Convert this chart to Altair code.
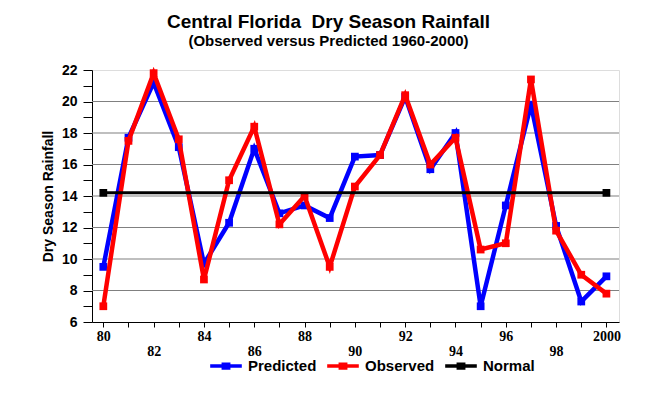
import altair as alt
import pandas as pd

years = list(range(1980, 2001))
predicted = [9.5, 17.7, 21.2, 17.1, 9.7, 12.3, 17.0, 12.9, 13.4, 12.6, 16.5,
             16.6, 20.3, 15.7, 18.0, 7.0, 13.4, 19.8, 12.1, 7.3, 8.9]
observed = [7.0, 17.5, 21.8, 17.6, 8.7, 15.0, 18.4, 12.2, 14.0, 9.5, 14.6,
            16.6, 20.4, 16.0, 17.7, 10.6, 11.0, 21.4, 11.8, 9.0, 7.8]
normal_years = [1980, 2000]
normal_values = [14.2, 14.2]
series_names = ["Predicted", "Observed", "Normal"]
series_colors = ["#0000FF", "#FF0000", "#000000"]
grid_values = [8, 10, 12, 14, 16, 18, 20]
y_ticks = list(range(6, 23))

rows = []
for y, v in zip(years, predicted):
    rows.append({"year": y, "value": v, "series": "Predicted"})
for y, v in zip(years, observed):
    rows.append({"year": y, "value": v, "series": "Observed"})
for y, v in zip(normal_years, normal_values):
    rows.append({"year": y, "value": v, "series": "Normal"})
df = pd.DataFrame(rows)
grid_df = pd.DataFrame({"value": grid_values})

x_enc = alt.X(
    "year:Q",
    scale=alt.Scale(domain=[1979.55, 2000.5], nice=False, zero=False),
    axis=alt.Axis(
        values=years,
        title=None,
        grid=False,
        labelExpr=("datum.value == 2000 ? '2000' : (datum.value % 2 == 1 ? '' : "
                   "(datum.value % 4 == 0 ? toString(datum.value - 1900) : "
                   "['', toString(datum.value - 1900)]))"),
        labelFont="Liberation Serif",
        labelFontWeight="bold",
        labelFontSize=14,
        labelColor="black",
        labelOverlap=False,
        labelFlush=False,
        labelLineHeight=15,
        tickSize=5,
        tickColor="black",
        domainColor="black",
        labelPadding=2,
    ),
)

y_enc = alt.Y(
    "value:Q",
    scale=alt.Scale(domain=[6, 22], nice=False, zero=False),
    axis=alt.Axis(
        values=y_ticks,
        title="Dry Season Rainfall",
        grid=False,
        labelExpr="datum.value % 2 == 0 ? datum.label : ''",
        labelFont="Liberation Sans",
        labelFontWeight="bold",
        labelFontSize=14,
        labelColor="black",
        labelOverlap=False,
        labelFlush=False,
        tickSize=9,
        tickColor="black",
        domainColor="black",
        labelPadding=6,
        titleFont="Liberation Sans",
        titleFontWeight="bold",
        titleFontSize=14,
        titleColor="black",
        titlePadding=6,
    ),
)

legend_path = "M-1,0L1,0M-0.17,-0.12L0.17,-0.12L0.17,0.12L-0.17,0.12Z"
color_enc = alt.Color(
    "series:N",
    scale=alt.Scale(domain=series_names, range=series_colors),
    legend=alt.Legend(
        orient="none",
        legendX=116,
        legendY=278,
        direction="horizontal",
        title=None,
        symbolType=legend_path,
        symbolSize=1000,
        symbolStrokeWidth=3.5,
        labelFont="Liberation Sans",
        labelFontWeight="bold",
        labelFontSize=15,
        labelColor="black",
        labelOffset=4,
        columnPadding=3,
    ),
)

grid = alt.Chart(grid_df).mark_rule(color="#808080", strokeWidth=1.2).encode(y=y_enc)

layers = [grid]
for name, width, size in [("Predicted", 4.5, 60), ("Observed", 4.5, 60), ("Normal", 3, 60)]:
    base = alt.Chart(df).transform_filter(alt.datum.series == name)
    layers.append(base.mark_line(strokeWidth=width).encode(x=x_enc, y=y_enc, color=color_enc))
    layers.append(base.mark_point(shape="square", filled=True, size=size, opacity=1).encode(
        x=x_enc, y=y_enc, color=color_enc))

chart = alt.layer(*layers).properties(
    width=527,
    height=252,
    autosize=alt.AutoSizeParams(type="none"),
    padding={"left": 84, "top": 62, "right": 30, "bottom": 60},
    title=alt.Title(
        "Central Florida\u00a0 Dry Season Rainfall",
        subtitle="(Observed versus Predicted 1960-2000)",
        font="Liberation Sans",
        fontSize=19,
        fontWeight="bold",
        color="black",
        subtitleFont="Liberation Sans",
        subtitleFontSize=15,
        subtitleFontWeight="bold",
        subtitleColor="black",
        subtitlePadding=2,
        anchor="middle",
        offset=14,
        dx=-27,
    ),
).configure_view(stroke="black", strokeWidth=1).configure(background="white")

chart.save("out.html", embed_options={"renderer": "svg", "actions": False})
